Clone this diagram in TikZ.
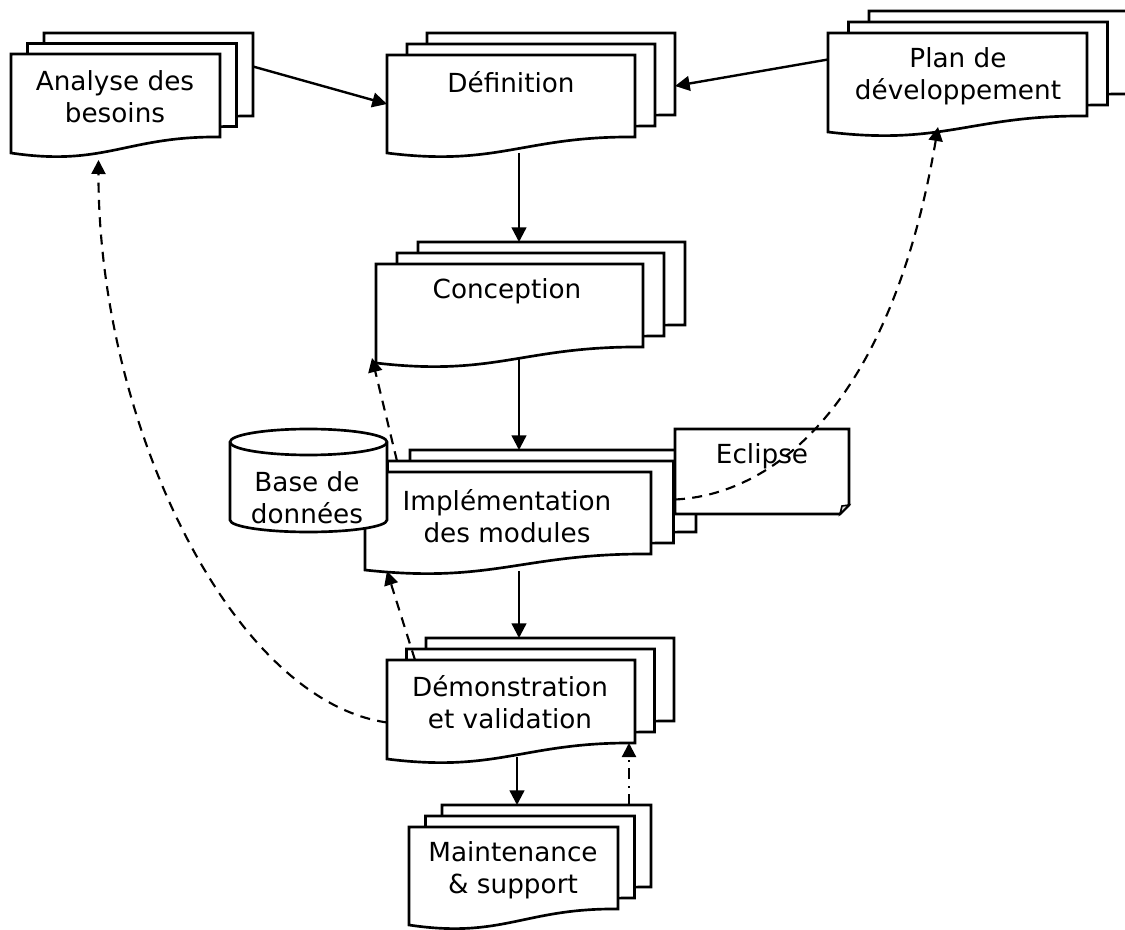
\documentclass[tikz,border=0pt]{standalone}
\usepackage{fontspec}
\setmainfont{DejaVu Sans}
\usetikzlibrary{arrows.meta}
\tikzset{
  page/.style={draw=black,fill=white,line width=2pt,line join=miter},
  anchorbox/.style={inner sep=0pt,outer sep=0pt,draw=none},
  lbl/.style={align=center,inner sep=0pt,font=\fontsize{19.7}{23.7}\selectfont},
  flow/.style={line width=1.8pt,-{Triangle[length=11pt,width=11pt]}},
  back/.style={line width=1.6pt,dash pattern=on 7.5pt off 5.5pt,-{Triangle[length=10.5pt,width=10.5pt]}},
  backdot/.style={line width=1.6pt,dash pattern=on 8pt off 5pt on 1.5pt off 5pt,-{Triangle[length=10.5pt,width=10.5pt]}},
}
% name, left, top, width, height of the straight right edge, dx, dy of the pages behind
\newcommand{\docstack}[7]{%
  \foreach \i/\nm in {2/#1 back,1/#1 mid,0/#1}{%
    \begin{scope}[shift={({\i*(#6)},{-\i*(#7)})}]
      \draw[page] (#2,#3) -- ({#2+#4},#3) -- ({#2+#4},{#3+#5})
        .. controls ({#2+0.55*(#4)},{#3+#5-1}) and ({#2+0.45*(#4)},{#3+#5+30}) .. (#2,{#3+#5+16}) -- cycle;
      \node[anchorbox,minimum width={(#4)*0.75pt},minimum height={(#5)*0.75pt}] (\nm) at ({#2+0.5*(#4)},{#3+0.5*(#5)}) {};
    \end{scope}}}
\begin{document}
\begin{tikzpicture}[x=0.75pt,y=-0.75pt]
\useasboundingbox (0,0) rectangle (1125,930);
\clip (0,0) rectangle (1125,930);

\docstack{analyse}{11}{54}{209}{83}{16.5}{10.5}
\node[lbl] (analyse text) at (115,97) {Analyse des\\besoins};

\docstack{definition}{387}{55}{248}{82}{20}{11}
\node[lbl] (definition text) at (511,82) {Définition};

\docstack{plan}{828}{33}{259}{83}{20.5}{11}
\node[lbl] (plan text) at (958,76) {Plan de\\développement};

\docstack{conception}{376}{264}{267}{83}{21}{11}
\node[lbl] (conception text) at (507,291) {Conception};

\docstack{implementation}{365}{472}{286}{82}{22.5}{11}
\node[lbl] (implementation text) at (507,516) {Implémentation\\des modules};

\draw[page] (675,429) -- (849,429) -- (849,505) -- (840,514) -- (675,514) -- cycle;
\draw[line width=1.2pt,fill=gray!25] (849,505) -- (842,506) -- (840,514) -- cycle;
\node[anchorbox,minimum width=130.5pt,minimum height=63.75pt] (eclipse) at (762,471.5) {};
\node[lbl] (eclipse text) at (762,456) {Eclipse};

\draw[back] ([shift={(-0.5,0)}]implementation mid.north west) ++(10,0) coordinate (im) -- ([shift={(-4,11)}]conception.south west);

\draw[page] (230,442) -- (230,520) arc[start angle=180,end angle=0,x radius=78.5,y radius=12]
  -- (387,442) arc[start angle=0,end angle=-180,x radius=78.5,y radius=13] -- cycle;
\draw[page] (230,442) arc[start angle=180,end angle=0,x radius=78.5,y radius=13];
\node[anchorbox,minimum width=117.75pt,minimum height=75pt] (base) at (308.5,482) {};
\node[lbl] (base text) at (307,498) {Base de\\données};

\docstack{demonstration}{387}{660}{248}{83}{19.5}{11}
\node[lbl] (demonstration text) at (510,702) {Démonstration\\et validation};

\docstack{maintenance}{409}{827}{209}{82}{16.5}{11}
\node[lbl] (maintenance text) at (513,870) {Maintenance\\\& support};

% solid flow
\draw[flow] ([shift={(0,-8)}]analyse back.east) -- ([shift={(0,8)}]definition.west);
\draw[flow] ([shift={(0,-15)}]plan.west) -- ([shift={(0,12)}]definition back.east);
\draw[flow] ([shift={(8,16)}]definition.south) coordinate (d1) -- (d1 |- conception back.north);
\draw[flow] ([shift={(9.5,11)}]conception.south) coordinate (c1) -- (c1 |- implementation back.north);
\draw[flow] ([shift={(11,17)}]implementation.south) coordinate (i1) -- (i1 |- demonstration back.north);
\draw[flow] ([shift={(6,14)}]demonstration.south) coordinate (m1) -- (m1 |- maintenance back.north);

% dashed returns
\draw[back] ([shift={(0,21)}]demonstration.west) .. controls (230,700) and (98,420) .. ([shift={(-17,23)}]analyse.south);
\draw[back] ([shift={(28,0)}]demonstration.north west) -- ([shift={(22,17)}]implementation.south west);
\draw[backdot] ([shift={(-22,0)}]maintenance back.north east) -- ([shift={(-6,0)}]demonstration.south east);
\draw[back] ([shift={(0,28)}]eclipse.west) .. controls (770,495) and (890,410) .. ([shift={(-19.5,11)}]plan.south);
\end{tikzpicture}
\end{document}
